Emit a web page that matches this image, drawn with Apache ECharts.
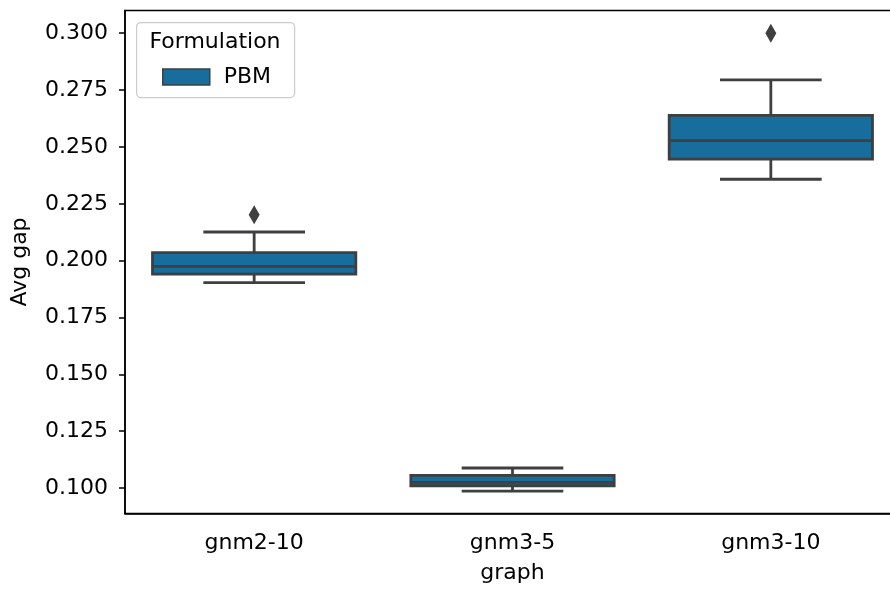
<!DOCTYPE html>
<html>
<head>
<meta charset="utf-8">
<script src="https://cdn.jsdelivr.net/npm/echarts@6/dist/echarts.min.js"></script>
<style>
  html, body { margin: 0; padding: 0; background: #ffffff; }
  #chart { width: 890px; height: 590px; }
</style>
</head>
<body>
<div id="chart"></div>
<script>
// Box statistics per graph family (PBM formulation)
const categories = ['gnm2-10', 'gnm3-5', 'gnm3-10'];
const whiskerLow = [0.1903, 0.0986, 0.2358];
const q1 = [0.1941, 0.1010, 0.2446];
const median = [0.1975, 0.1025, 0.2528];
const q3 = [0.2035, 0.1056, 0.2639];
const whiskerHigh = [0.2126, 0.1088, 0.2795];
// Fliers: [category index, value]
const outliers = [[0, 0.2202], [2, 0.3000]];
const yTicks = [0.100, 0.125, 0.150, 0.175, 0.200, 0.225, 0.250, 0.275, 0.300];
const seriesName = 'PBM';
const legendTitle = 'Formulation';

const FILL = '#176d9c';
const LINE = '#3f3f3f';
const FONT = 'DejaVu Sans';
const FS = 22;

const boxData = categories.map((c, i) => [i, whiskerLow[i], q1[i], median[i], q3[i], whiskerHigh[i]]);

function renderBox(params, api) {
  const idx = api.value(0);
  const band = api.size([1, 0])[0];
  const half = band * 0.787 / 2;
  const capHalf = half / 2;
  const pLow = api.coord([idx, api.value(1)]);
  const pQ1 = api.coord([idx, api.value(2)]);
  const pMed = api.coord([idx, api.value(3)]);
  const pQ3 = api.coord([idx, api.value(4)]);
  const pHigh = api.coord([idx, api.value(5)]);
  const x = pQ1[0];
  const lw = 2.8;
  const lineStyle = { stroke: LINE, lineWidth: lw };
  return {
    type: 'group',
    children: [
      { type: 'line', shape: { x1: x, y1: pQ1[1], x2: x, y2: pLow[1] }, style: lineStyle },
      { type: 'line', shape: { x1: x, y1: pQ3[1], x2: x, y2: pHigh[1] }, style: lineStyle },
      { type: 'line', shape: { x1: x - capHalf, y1: pLow[1], x2: x + capHalf, y2: pLow[1] }, style: lineStyle },
      { type: 'line', shape: { x1: x - capHalf, y1: pHigh[1], x2: x + capHalf, y2: pHigh[1] }, style: lineStyle },
      { type: 'rect', shape: { x: x - half, y: pQ3[1], width: half * 2, height: pQ1[1] - pQ3[1] },
        style: { fill: FILL, stroke: LINE, lineWidth: lw } },
      { type: 'line', shape: { x1: x - half, y1: pMed[1], x2: x + half, y2: pMed[1] }, style: lineStyle }
    ]
  };
}

const chart = echarts.init(document.getElementById('chart'), null, { renderer: 'canvas' });
chart.setOption({
  animation: false,
  backgroundColor: '#ffffff',
  textStyle: { fontFamily: FONT },
  grid: { left: 125, top: 10.5, width: 775, height: 503, outerBoundsMode: 'none', containLabel: false,
    show: true, borderColor: '#000000', borderWidth: 1.5, backgroundColor: 'transparent' },
  legend: {
    data: [seriesName],
    left: 157, top: 61, z: 10,
    icon: 'rect',
    itemWidth: 47, itemHeight: 16,
    itemStyle: { color: FILL, borderColor: LINE, borderWidth: 1.5 },
    textStyle: { fontFamily: FONT, fontSize: FS, color: '#000000', padding: [0, 0, 0, 9] }
  },
  xAxis: {
    type: 'category',
    data: categories,
    name: 'graph',
    nameLocation: 'middle',
    nameGap: 49,
    nameTextStyle: { fontFamily: FONT, fontSize: FS, color: '#000000' },
    axisLine: { lineStyle: { color: '#000000', width: 1.5 } },
    axisTick: { alignWithLabel: true, length: 6, lineStyle: { color: '#000000', width: 1.5 } },
    axisLabel: { fontFamily: FONT, fontSize: FS, color: '#000000', margin: 19 },
    splitLine: { show: false }
  },
  yAxis: {
    type: 'value',
    min: 0.0888, max: 0.3100,
    name: 'Avg gap',
    nameLocation: 'middle',
    nameGap: 94,
    nameTextStyle: { fontFamily: FONT, fontSize: FS, color: '#000000' },
    axisLine: { show: true, lineStyle: { color: '#000000', width: 1.5 } },
    axisTick: { show: true, length: 6, customValues: yTicks, lineStyle: { color: '#000000', width: 1.5 } },
    axisLabel: { fontFamily: FONT, fontSize: FS, color: '#000000', margin: 17, customValues: yTicks,
      formatter: v => v.toFixed(3) },
    splitLine: { show: false }
  },
  graphic: [
    { type: 'rect', left: 136, top: 22, z: 1,
      shape: { width: 158, height: 75, r: 4 },
      style: { fill: 'rgba(255,255,255,0.8)', stroke: '#cccccc', lineWidth: 1.2 } },
    { type: 'text', x: 215, y: 42, z: 6,
      style: { text: legendTitle, fontFamily: FONT, fontSize: FS, fill: '#000000', align: 'center', verticalAlign: 'middle' } }
  ],
  series: [
    {
      name: seriesName,
      type: 'custom',
      renderItem: renderBox,
      itemStyle: { color: FILL, borderColor: LINE },
      encode: { x: 0, y: [1, 2, 3, 4, 5] },
      data: boxData,
      z: 2
    },
    {
      name: 'fliers',
      type: 'scatter',
      symbol: 'diamond',
      symbolSize: [11, 19],
      itemStyle: { color: LINE, opacity: 1 },
      data: outliers,
      z: 3
    }
  ]
});
</script>
</body>
</html>
